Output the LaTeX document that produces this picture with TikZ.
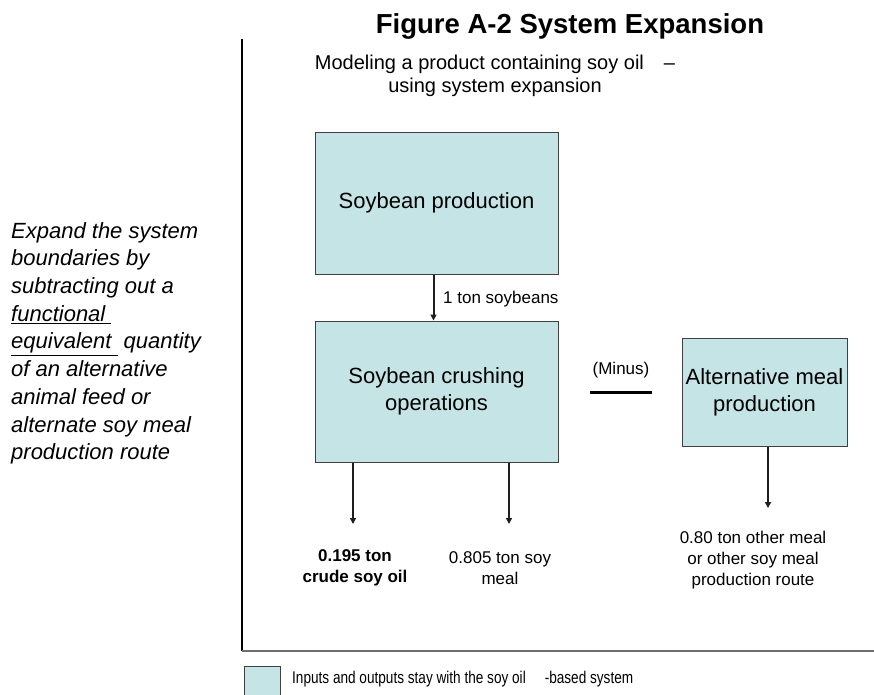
\documentclass[tikz,border=0pt]{standalone}
\usepackage{fontspec}
\setmainfont{Liberation Sans}
\newfontfamily\condfont[FakeStretch=0.8]{Liberation Sans}
\usetikzlibrary{arrows.meta}
\definecolor{boxfill}{RGB}{196,228,230}
\definecolor{boxline}{RGB}{64,64,64}
\definecolor{arrowcol}{RGB}{30,30,30}
\definecolor{framegray}{RGB}{110,110,110}
\begin{document}
\begin{tikzpicture}[x=1pt,y=-1pt,
  procbox/.style={draw=boxline, fill=boxfill, line width=1pt, align=center, inner sep=0pt,
    font=\fontsize{22}{27}\selectfont},
  flow/.style={draw=arrowcol, line width=2pt, -{Triangle[length=6pt,width=6pt]}},
  smalltext/.style={font=\fontsize{17}{21}\selectfont, inner sep=0pt, align=center}]
\useasboundingbox (0,0) rectangle (874,694);

% frame
\coordinate (ftop) at (242,39);
\coordinate (fcorner) at (242,651);
\coordinate (fright) at (874,651);
\draw[line width=1.2pt, black] (ftop) -- (fcorner);
\draw[line width=1.5pt, framegray] (fcorner) -- (fright);

% headings
\node[font=\bfseries\fontsize{27.5}{32}\selectfont, inner sep=0pt] (title) at (570,26) {Figure A-2 System Expansion};
\node[font=\fontsize{20}{23}\selectfont, align=center, inner sep=0pt] (sub) at (495,76)
  {Modeling a product containing soy oil\hspace{20pt}--\\using system expansion};

% left text
\node[anchor=north west, inner sep=0pt, align=left,
  font=\itshape\fontsize{22}{27.7}\selectfont] (expl) at (11,222)
  {Expand the system\\boundaries by\\subtracting out a\\\underline{functional\ }\\\underline{equivalent\ } quantity\\of an alternative\\animal feed or\\alternate soy meal\\production route};

% boxes
\node[procbox, minimum width=243pt, minimum height=142pt] (soy) at (436.5,203) {Soybean production};
\node[procbox, minimum width=243pt, minimum height=141pt] (crush) at (436.5,391.5) {Soybean crushing\\operations};
\node[procbox, minimum width=165pt, minimum height=108pt] (alt) at (764.5,392) {Alternative meal\\production};

% soybeans flow
\draw[flow] ([xshift=-3pt]soy.south) -- ([xshift=-3pt]crush.north);
\node[smalltext, anchor=west] (beans) at (443,299) {1 ton soybeans};

% minus
\node[smalltext] (minus) at (621,370) {(Minus)};
\coordinate (mleft) at (590,392);
\coordinate (mright) at (652,392);
\draw[line width=3pt, black] (mleft) -- (mright);

% outputs
\coordinate (oilend) at (353,524);
\coordinate (mealend) at (509,524);
\coordinate (altend) at (768,508);
\draw[flow] (crush.south -| oilend) -- (oilend);
\draw[flow] (crush.south -| mealend) -- (mealend);
\draw[flow] (alt.south -| altend) -- (altend);

\node[smalltext, font=\bfseries\fontsize{17}{21}\selectfont] (oil) at (355,568) {0.195 ton\\crude soy oil};
\node[smalltext] (meal) at (500,568) {0.805 ton soy\\meal};
\node[smalltext] (altout) at (753,560) {0.80 ton other meal\\or other soy meal\\production route};

% legend
\node[draw=boxline, fill=boxfill, line width=0.8pt, minimum width=36pt, minimum height=34pt, inner sep=0pt, anchor=north west] (legbox) at (244,666) {};
\node[anchor=west, inner sep=0pt, font=\condfont\fontsize{17}{20}\selectfont] (legtext) at (292,679)
  {Inputs and outputs stay with the soy oil\hspace{19pt}-based system};
\end{tikzpicture}
\end{document}
